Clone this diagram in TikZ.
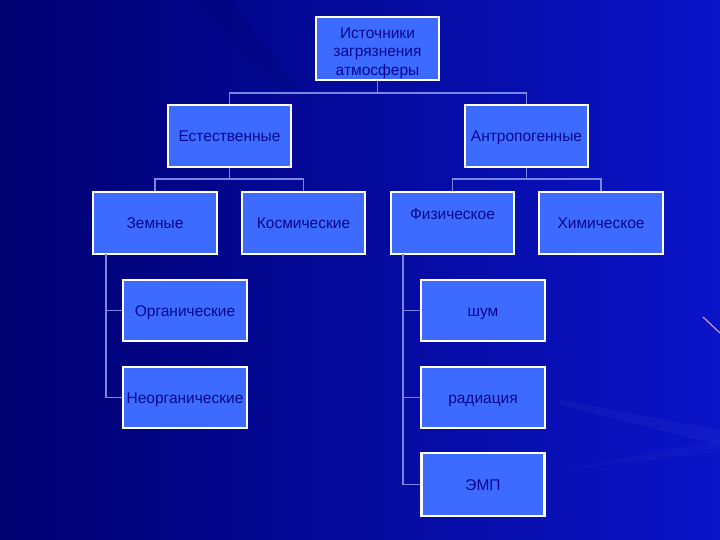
\documentclass[tikz,border=0pt]{standalone}
\usepackage{fontspec}
\setmainfont{Liberation Sans}
\definecolor{boxfill}{HTML}{3D6BFF}
\definecolor{boxtext}{HTML}{08088C}
\definecolor{linkc}{HTML}{7A86E6}
\definecolor{bgleft}{HTML}{000070}
\definecolor{bgright}{HTML}{0A14C8}
\tikzset{
  basebox/.style={draw=white, line width=2.2bp, fill=boxfill, text=boxtext,
    minimum width=123bp, minimum height=62bp, inner sep=1bp, align=center,
    font=\fontsize{15.5bp}{18.5bp}\selectfont},
  box/.style={basebox, text height=15.5bp, text depth=3.5bp},
  link/.style={draw=linkc, line width=1.4bp}
}
\begin{document}
\begin{tikzpicture}[x=1bp,y=-1bp]
\useasboundingbox (0,0) rectangle (720,540);
% background
\shade[left color=bgleft, right color=bgright] (0,0) rectangle (720,540);
\fill[white, opacity=0.03] (560,400) -- (720,430) -- (720,445) -- (560,405) -- cycle;
\fill[white, opacity=0.025] (560,470) -- (720,440) -- (720,452) -- cycle;
\fill[black, opacity=0.06] (190,0) -- (230,0) -- (300,90) -- (280,90) -- cycle;
\draw[color=violet!40!white, line width=1.2bp] (703,317) -- (720,333);
% nodes
\node[basebox, minimum height=63bp] (top) at (377.5,48.5) {\raisebox{-4.5bp}[\height][\depth]{\begin{tabular}{@{}c@{}}Источники\\загрязнения\\атмосферы\end{tabular}}};
\node[box] (est) at (229.5,136) {Естественные};
\node[box] (antro) at (526.5,136) {Антропогенные};
\node[box, minimum width=124bp] (zem) at (155,223) {Земные};
\node[box] (kosm) at (303.5,223) {Космические};
\node[box, text depth=21.5bp] (fiz) at (452.5,223) {Физическое};
\node[box, minimum width=124bp] (xim) at (601,223) {Химическое};
\node[box, minimum width=124bp, minimum height=61bp] (org) at (185,310.5) {Органические};
\node[box, minimum width=124bp, minimum height=61bp, inner sep=0bp] (neorg) at (185,397.5) {Неорганические};
\node[box, minimum width=124bp, minimum height=61bp] (shum) at (483,310.5) {шум};
\node[box, minimum width=124bp, minimum height=61bp] (rad) at (483,397.5) {радиация};
\node[box, minimum height=63bp] (emp) at (483,484.5) {ЭМП};
% connectors
\coordinate (tj) at (377.5,93);
\coordinate (ej) at (229.5,179);
\coordinate (aj) at (526.5,179);
\coordinate (zl) at (106,254);
\coordinate (fl) at (403,254);
\draw[link] (top.south) -- (tj);
\draw[link] (tj) -| (est.north);
\draw[link] (tj) -| (antro.north);
\draw[link] (est.south) -- (ej);
\draw[link] (ej) -| (zem.north);
\draw[link] (ej) -| (kosm.north);
\draw[link] (antro.south) -- (aj);
\draw[link] (aj) -| (fiz.north);
\draw[link] (aj) -| (xim.north);
\draw[link] (zl) |- (org.west);
\draw[link] (zl) |- (neorg.west);
\draw[link] (fl) |- (shum.west);
\draw[link] (fl) |- (rad.west);
\draw[link] (fl) |- (emp.west);
\end{tikzpicture}
\end{document}
